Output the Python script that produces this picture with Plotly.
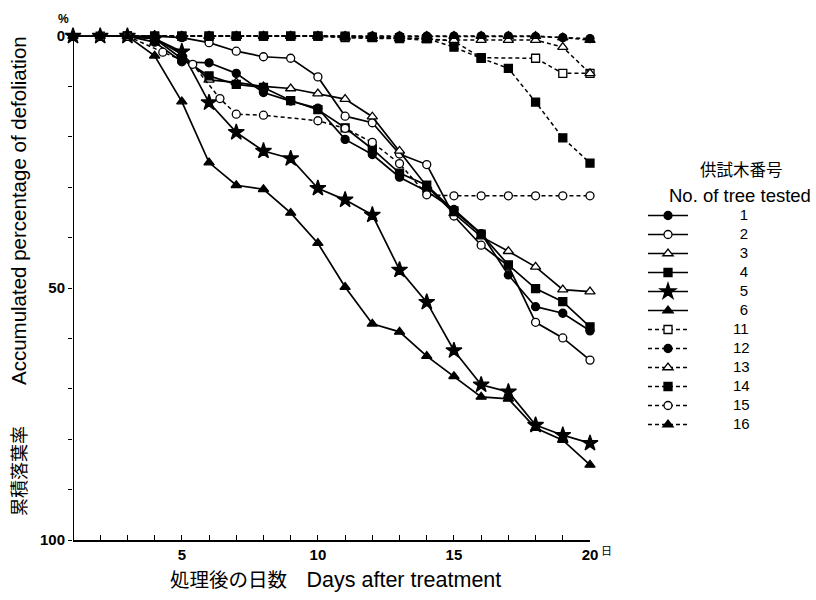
import plotly.graph_objects as go

# ---------------- data ----------------
tree_names = ["1", "2", "3", "4", "5", "6", "11", "12", "13", "14", "15", "16"]

t1_days = [2, 3, 4, 5, 6, 7, 8, 9, 10, 11, 12, 13, 14, 15, 16, 17, 18, 19, 20]
t1_vals = [0, 0, 1.2, 5.1, 5.3, 7.4, 11.2, 12.9, 14.3, 20.5, 23.5, 28.0, 30.8, 34.4, 39.2, 47.4, 53.7, 55.0, 58.5]

t2_days = [3, 4, 5, 6, 7, 8, 9, 10, 11, 12, 13, 14, 15, 16, 17, 18, 19, 20]
t2_vals = [0, 0, 0.3, 1.3, 3.0, 4.1, 4.4, 8.1, 15.9, 17.2, 23.4, 25.5, 35.7, 41.5, 45.6, 56.8, 59.9, 64.3]

t3_days = [3, 4, 5, 6, 7, 8, 9, 10, 11, 12, 13, 14, 15, 16, 17, 18, 19, 20]
t3_vals = [0, 0.5, 3.6, 8.7, 9.2, 10.0, 10.4, 11.4, 12.5, 16.0, 22.8, 29.8, 35.2, 39.8, 42.7, 45.8, 50.3, 50.7]

t4_days = [3, 4, 5, 6, 7, 8, 9, 10, 11, 12, 13, 14, 15, 16, 17, 18, 19, 20]
t4_vals = [0, 0.5, 4.5, 7.9, 9.6, 10.2, 12.8, 14.6, 18.2, 22.4, 27.2, 29.6, 34.7, 39.3, 45.4, 50.1, 52.7, 57.7]

t5_days = [1, 2, 3, 4, 5, 6, 7, 8, 9, 10, 11, 12, 13, 14, 15, 16, 17, 18, 19, 20]
t5_vals = [0, 0, 0, 0.5, 3.1, 13.2, 19.1, 22.8, 24.3, 30.2, 32.5, 35.5, 46.4, 52.8, 62.4, 69.2, 70.6, 77.2, 79.2, 80.8]

t6_days = [1, 2, 3, 4, 5, 6, 7, 8, 9, 10, 11, 12, 13, 14, 15, 16, 17, 18, 19, 20]
t6_vals = [0, 0, 0, 3.9, 13.0, 25.1, 29.6, 30.4, 35.1, 41.1, 49.8, 57.1, 58.7, 63.5, 67.5, 71.6, 72.0, 77.8, 80.2, 85.1]

t11_days = [2, 3, 4, 5, 6, 7, 8, 9, 10, 11, 12, 13, 14, 15, 16, 18, 19, 20]
t11_vals = [0, 0, 0, 0, 0, 0, 0, 0, 0, 0.3, 0.3, 0.5, 0.5, 1.0, 4.3, 4.4, 7.4, 7.4]

t12_days = [2, 3, 4, 5, 6, 7, 8, 9, 10, 11, 12, 13, 14, 15, 16, 17, 18, 19, 20]
t12_vals = [0, 0, 0, 0, 0, 0, 0, 0, 0, 0, 0, 0, 0, 0, 0, 0, 0.1, 0.3, 0.5]

t13_days = [3, 4, 5, 6, 7, 8, 9, 10, 11, 12, 13, 14, 15, 16, 17, 18, 19, 20]
t13_vals = [0, 0, 0, 0, 0, 0, 0, 0, 0.3, 0.5, 0.5, 0.8, 0.8, 0.8, 0.8, 0.8, 2.2, 7.4]

t14_days = [3, 4, 5, 6, 7, 8, 9, 10, 11, 12, 13, 14, 15, 16, 17, 18, 19, 20]
t14_vals = [0, 0, 0, 0, 0, 0, 0, 0, 0, 0.2, 0.3, 0.5, 2.2, 4.4, 6.4, 13.1, 20.2, 25.2]

t15_days = [3, 4.3, 5.4, 6.4, 7, 8, 10, 11, 12, 13, 14, 15, 16, 17, 18, 19, 20]
t15_vals = [0, 3.2, 5.6, 12.4, 15.5, 15.7, 16.8, 18.3, 21.1, 25.3, 31.5, 31.7, 31.7, 31.7, 31.7, 31.7, 31.7]

t16_days = [3, 4, 5, 6, 7, 8, 9, 10, 11, 12, 13, 14, 15, 16, 17, 18, 19, 20]
t16_vals = [0, 0, 0, 0, 0, 0, 0, 0, 0, 0, 0, 0, 0, 0, 0, 0, 0.3, 0.8]

y_tick_vals = [0, 10, 20, 30, 40, 50, 60, 70, 80, 90, 100]
y_tick_text = ["0", "", "", "", "", "50", "", "", "", "", "100"]
x_tick_vals = list(range(1, 21))
x_tick_text = ["5" if d == 5 else "10" if d == 10 else "15" if d == 15 else "20" if d == 20 else "" for d in x_tick_vals]

# ---------------- styling ----------------
all_days = [t1_days, t2_days, t3_days, t4_days, t5_days, t6_days,
            t11_days, t12_days, t13_days, t14_days, t15_days, t16_days]
all_vals = [t1_vals, t2_vals, t3_vals, t4_vals, t5_vals, t6_vals,
            t11_vals, t12_vals, t13_vals, t14_vals, t15_vals, t16_vals]
symbols = ["circle", "circle", "triangle-up", "square", "star", "triangle-up",
           "square", "circle", "triangle-up", "square", "circle", "triangle-up"]
filled = [True, False, False, True, True, True,
          False, True, False, True, False, True]
dashed = [False] * 6 + [True] * 6
sizes = {"circle": 8, "triangle-up": 9, "square": 8, "star": 12}

FONT = "Liberation Sans, Arial, Noto Sans CJK JP, sans-serif"
NB = "\u00a0"


def legend_label(name):
    # pad so the numbers sit centred to the right of the sample, as in the reference
    pad = NB * (14 if len(name) == 1 else 12)
    return pad + '<span style="font-size:15px">' + name + "</span>"


fig = go.Figure()
for name, xs, ys, sym, fil, dsh in zip(tree_names, all_days, all_vals, symbols, filled, dashed):
    fig.add_trace(go.Scatter(
        x=xs, y=ys, name=legend_label(name), mode="lines+markers",
        line=dict(color="black", width=1.5 if dsh else 1.7, dash="4px,3px" if dsh else "solid"),
        marker=dict(symbol=sym, size=sizes[sym],
                    color="black" if fil else "white",
                    line=dict(color="black", width=1.3)),
        cliponaxis=False,
    ))

L, R, T, B = 73, 590, 26, 540
W, H = 816, 600


def px(x):
    return (x - L) / (R - L)


def py(y):
    return (B - y) / (B - T)


def note(text, x, y, size, family=FONT, angle=0):
    return dict(text=text, x=px(x), y=py(y), xref="paper", yref="paper",
                xanchor="center", yanchor="middle", showarrow=False,
                textangle=angle, font=dict(size=size, family=family))


fig.update_layout(
    width=W, height=H,
    margin=dict(l=L, r=W - R, t=T, b=H - B, pad=0, autoexpand=False),
    plot_bgcolor="white", paper_bgcolor="white",
    font=dict(family=FONT, color="black"),
    showlegend=True,
    legend=dict(
        x=px(643), y=py(201), xanchor="left", yanchor="top",
        font=dict(size=12, family=FONT),
        itemwidth=40,
        bgcolor="rgba(0,0,0,0)",
        traceorder="normal",
    ),
    xaxis=dict(
        range=[1, 20], tickmode="array", tickvals=x_tick_vals, ticktext=x_tick_text,
        ticks="inside", ticklen=5, tickwidth=1.3, tickcolor="black",
        showline=True, linecolor="black", linewidth=2,
        showgrid=False, zeroline=False, automargin=False,
        tickfont=dict(size=15, family=FONT, weight="bold"),
    ),
    yaxis=dict(
        range=[100, -2], tickmode="array", tickvals=y_tick_vals, ticktext=y_tick_text,
        ticks="outside", ticklen=4, tickwidth=1.3, tickcolor="black",
        showline=False, showgrid=False, zeroline=False, automargin=False,
        tickfont=dict(size=15, family=FONT, weight="bold"),
    ),
    shapes=[dict(type="line", xref="x", yref="y", x0=1, x1=1, y0=0, y1=100,
                 line=dict(color="black", width=2), layer="below")],
    annotations=[
        note("<b>%</b>", 63, 19, 12),
        note("日", 606, 550, 11, "Noto Sans CJK JP"),
        note('<span style="font-size:18px">累積落葉率</span>　　Accumulated percentage of defoliation',
             18, 276, 20.5, angle=-90),
        note('処理後の日数　<span style="font-size:21.5px">Days after treatment</span>',
             335, 580, 19.5),
        note("供試木番号", 741, 169, 16.5, "Noto Sans CJK JP"),
        note("No. of tree tested", 740, 195, 18.5),
    ],
)

fig.write_html("out.html", post_script="document.body.style.margin='0px';",
               config={"displayModeBar": False})
